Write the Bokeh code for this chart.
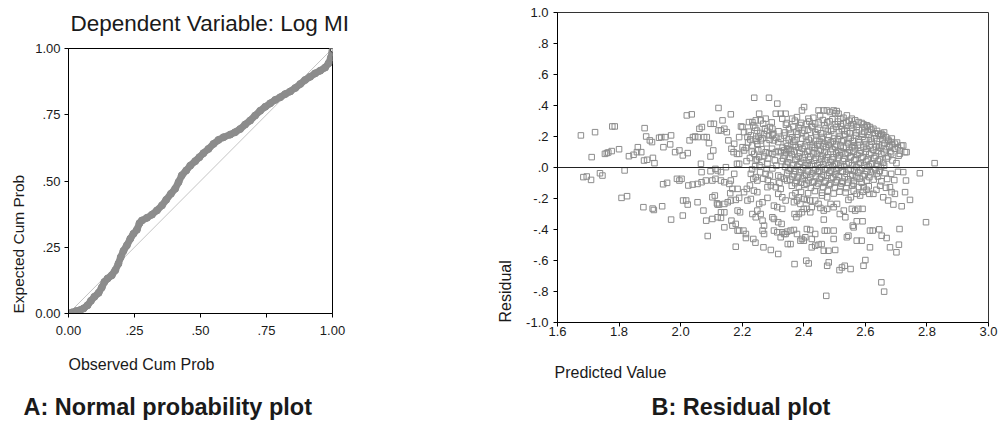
from bokeh.plotting import figure
from bokeh.models import Range1d, FixedTicker, Span, Title
from bokeh.layouts import row, column
from bokeh.embed import file_html
from bokeh.resources import INLINE

FONT = "Liberation Sans"
TXT = "#1a1a1a"
GRAY = "#8c8c8c"

# ---------------- Panel A: normal P-P plot ----------------
pp_ticks = [0.0, 0.25, 0.5, 0.75, 1.0]
pp_tick_labels = ["0.00", ".25", ".50", ".75", "1.00"]

observed_cum_prob = [0.0, 0.013, 0.029, 0.044, 0.057, 0.072, 0.085, 0.098, 0.114, 0.126,
                     0.136, 0.148, 0.164, 0.177, 0.189, 0.198, 0.208, 0.221, 0.234, 0.246,
                     0.259, 0.269, 0.278, 0.297, 0.316, 0.335, 0.354, 0.370, 0.388, 0.404,
                     0.417, 0.429, 0.446, 0.461, 0.480, 0.496, 0.511, 0.530, 0.549, 0.568,
                     0.587, 0.612, 0.631, 0.650, 0.669, 0.688, 0.707, 0.726, 0.745, 0.764,
                     0.783, 0.802, 0.821, 0.840, 0.859, 0.878, 0.896, 0.915, 0.934, 0.953,
                     0.972, 0.985, 0.994, 0.999, 1.0]
expected_cum_prob = [0.0, 0.004, 0.009, 0.013, 0.019, 0.031, 0.048, 0.063, 0.078, 0.098,
                     0.119, 0.132, 0.144, 0.163, 0.188, 0.213, 0.236, 0.257, 0.282, 0.301,
                     0.316, 0.341, 0.351, 0.361, 0.373, 0.389, 0.408, 0.429, 0.452, 0.471,
                     0.496, 0.521, 0.540, 0.558, 0.575, 0.590, 0.605, 0.621, 0.640, 0.655,
                     0.665, 0.675, 0.684, 0.696, 0.713, 0.728, 0.747, 0.765, 0.780, 0.793,
                     0.806, 0.816, 0.828, 0.838, 0.851, 0.866, 0.881, 0.893, 0.906, 0.916,
                     0.928, 0.944, 0.966, 0.985, 0.994]

# ---------------- Panel B: residual plot ----------------
pred_ticks = [1.6, 1.8, 2.0, 2.2, 2.4, 2.6, 2.8, 3.0]
pred_tick_labels = ["1.6", "1.8", "2.0", "2.2", "2.4", "2.6", "2.8", "3.0"]
resid_ticks = [-1.0, -0.8, -0.6, -0.4, -0.2, 0.0, 0.2, 0.4, 0.6, 0.8, 1.0]
resid_tick_labels = ["-1.0", "-.8", "-.6", "-.4", "-.2", ".0", ".2", ".4", ".6", ".8", "1.0"]

# (predicted value, residual), by region
left_points = [
    (1.676, .207), (1.722, .228), (1.711, .067), (1.754, .088), (1.760, .093), (1.765, .097),
    (1.778, .265), (1.786, .265), (1.776, .106), (1.800, .118), (1.684, -.062), (1.695, -.058),
    (1.709, -.080), (1.738, -.037), (1.746, -.052), (1.808, -.196), (1.826, -.185), (1.818, -.019),
    (1.832, .073), (1.847, .082), (1.861, .131), (1.858, .099), (1.872, .099), (1.883, .254),
    (1.888, .200), (1.881, .045), (1.891, .050), (1.910, .062), (1.915, .028), (1.900, .175),
    (1.907, .164), (1.930, .192), (1.937, .196), (1.950, .196), (1.969, .207), (1.944, .131),
    (1.966, .149), (1.879, -.256), (1.909, -.265), (1.913, -.274), (1.940, -.250), (1.969, -.336),
    (1.943, -.108), (1.956, -.099), (1.982, .099), (1.996, .110), (2.007, .078), (2.023, .093),
    (1.988, -.073), (1.996, -.084), (2.003, -.073), (2.008, -.213), (2.018, -.213), (2.023, -.239),
    (2.007, -.310), (2.020, .336), (2.036, .343), (2.029, .175), (2.040, .196), (2.047, .200),
    (2.056, .196), (2.061, .250), (2.069, .261), (2.025, -.116), (2.039, -.110), (2.055, -.106),
    (2.068, -.095), (2.082, -.084), (2.055, -.224), (2.074, -.278), (2.083, -.343), (2.088, -.442),
    (2.066, .024), (2.068, -.030), (2.085, .196), (2.076, .196), (2.092, .157), (2.097, .071),
    (2.106, .110), (2.097, .282), (2.108, .282), (2.123, .384), (2.136, .304), (2.123, .239),
    (2.131, .239), (2.142, .250), (2.163, .343), (2.150, .228), (2.155, .175), (2.113, -.009),
    (2.097, -.024), (2.120, -.019), (2.131, -.030), (2.147, .002), (2.103, -.084), (2.113, -.073),
    (2.131, -.084), (2.142, -.095), (2.158, -.106), (2.163, -.084), (2.103, -.192), (2.111, -.181),
    (2.120, -.239), (2.118, -.231), (2.125, -.239), (2.142, -.235), (2.153, -.224), (2.163, -.213),
    (2.179, -.209), (2.190, -.196), (2.131, -.289), (2.142, -.289), (2.103, -.332), (2.120, -.321),
    (2.131, -.325), (2.142, -.386), (2.165, -.343), (2.168, -.375), (2.179, -.364), (2.179, -.511),
    (2.185, -.407), (2.190, -.407), (2.185, -.278), (2.193, -.289), (2.161, -.166), (2.168, -.138),
    (2.185, -.138), (2.174, -.041), (2.183, .024), (2.190, .024), (2.172, .099), (2.183, .088),
    (2.190, .088), (2.165, .121), (2.174, .153), (2.190, .196), (2.196, .265), (2.201, .261),
    (2.206, .228), (2.201, .131), (2.206, .110),
]

middle_points = [
    (2.204, -.407), (2.212, -.429), (2.212, -.455), (2.217, -.213), (2.228, -.203), (2.206, -.159),
    (2.215, -.138), (2.225, -.116), (2.236, -.461), (2.243, -.485), (2.239, .450), (2.255, .347),
    (2.222, .293), (2.233, .293), (2.244, .304), (2.260, .304), (2.276, .315), (2.217, .196),
    (2.228, .207), (2.244, .185), (2.260, .175), (2.233, .142), (2.249, .153), (2.239, .088),
    (2.244, .045), (2.255, .067), (2.228, -.041), (2.244, -.062), (2.249, -.084), (2.238, -.149),
    (2.249, -.159), (2.255, -.235), (2.266, -.224), (2.249, -.278), (2.260, -.300), (2.233, -.300),
    (2.244, -.321), (2.266, -.343), (2.271, -.375), (2.266, -.407), (2.271, -.429), (2.269, -.515),
    (2.293, -.532), (2.317, -.558), (2.282, -.196), (2.282, -.127), (2.293, -.116), (2.276, -.041),
    (2.290, -.052), (2.282, .024), (2.287, .093), (2.298, .088), (2.287, .207), (2.298, .207),
    (2.290, .261), (2.298, .250), (2.287, .450), (2.314, .412), (2.309, .347), (2.325, .347),
    (2.341, .347), (2.330, .315), (2.303, .175), (2.317, .164), (2.325, .185), (2.309, .099),
    (2.325, .099), (2.336, .110), (2.346, .121), (2.357, .110), (2.317, -.052), (2.325, -.062),
    (2.336, -.073), (2.346, -.084), (2.309, -.127), (2.325, -.138), (2.317, -.170), (2.330, -.192),
    (2.341, -.213), (2.303, -.246), (2.314, -.256), (2.330, -.267), (2.298, -.321), (2.303, -.332),
    (2.317, -.353), (2.328, -.364), (2.303, -.407), (2.314, -.418), (2.330, -.418), (2.336, -.429),
    (2.341, -.429), (2.346, -.414), (2.357, -.407), (2.368, -.403), (2.348, -.494), (2.357, -.494),
    (2.325, -.450), (2.370, -.623),
]

upper_points = [
    (2.362, .315), (2.378, .325), (2.394, .368), (2.401, .390), (2.415, .315), (2.431, .321),
    (2.448, .368), (2.453, .336), (2.464, .368), (2.475, .368), (2.485, .358), (2.497, .368),
    (2.502, .351), (2.507, .364), (2.513, .347), (2.519, .315), (2.529, .321), (2.540, .336),
    (2.556, .315), (2.567, .304), (2.578, .293), (2.594, .278), (2.604, .272), (2.615, .261),
    (2.626, .250), (2.642, .218), (2.652, .218), (2.658, .207), (2.674, .179), (2.685, .164),
    (2.696, .153), (2.706, .131), (2.717, .142), (2.712, .110), (2.734, .099),
]

band_points = [
    (2.371, .302), (2.392, .288), (2.418, .297), (2.437, .283), (2.462, .306), (2.476, .291),
    (2.493, .311), (2.511, .296), (2.528, .284), (2.547, .302), (2.561, .279), (2.588, .287),
    (2.607, .268), (2.236, .271), (2.268, .282), (2.296, .291), (2.342, .276),
    (2.352, .246), (2.383, .256), (2.402, .238), (2.428, .259), (2.446, .243), (2.471, .252),
    (2.489, .236), (2.506, .262), (2.524, .247), (2.541, .233), (2.557, .255), (2.579, .241),
    (2.597, .229), (2.619, .244), (2.638, .236), (2.661, .226), (2.248, .238), (2.274, .252),
    (2.318, .234),
    (2.336, .206), (2.362, .195), (2.381, .213), (2.407, .201), (2.423, .188), (2.441, .214),
    (2.458, .197), (2.482, .209), (2.498, .187), (2.517, .203), (2.533, .214), (2.552, .192),
    (2.569, .206), (2.591, .198), (2.612, .211), (2.629, .189), (2.648, .203), (2.667, .196),
    (2.686, .187), (2.271, .215), (2.253, .198),
    (2.342, .158), (2.366, .167), (2.389, .151), (2.409, .164), (2.432, .146), (2.451, .171),
    (2.467, .155), (2.488, .162), (2.506, .148), (2.523, .169), (2.544, .157), (2.563, .144),
    (2.581, .163), (2.602, .151), (2.621, .166), (2.644, .149), (2.663, .158), (2.688, .145),
    (2.703, .161), (2.219, .162), (2.279, .156),
    (2.331, .128), (2.352, .117), (2.374, .132), (2.396, .121), (2.417, .108), (2.436, .126),
    (2.455, .114), (2.472, .131), (2.493, .119), (2.512, .106), (2.529, .127), (2.548, .113),
    (2.566, .124), (2.585, .109), (2.604, .122), (2.626, .114), (2.645, .128), (2.667, .117),
    (2.681, .104), (2.696, .121), (2.212, .126), (2.263, .118),
    (2.338, .078), (2.361, .086), (2.383, .071), (2.404, .083), (2.421, .069), (2.443, .088),
    (2.462, .074), (2.479, .083), (2.497, .066), (2.516, .079), (2.535, .087), (2.553, .072),
    (2.574, .081), (2.592, .068), (2.613, .084), (2.634, .073), (2.652, .086), (2.674, .071),
    (2.708, .076), (2.271, .074),
    (2.328, .041), (2.349, .034), (2.372, .048), (2.391, .037), (2.413, .026), (2.434, .044),
    (2.451, .031), (2.469, .047), (2.488, .036), (2.506, .024), (2.527, .041), (2.546, .032),
    (2.564, .046), (2.583, .029), (2.603, .039), (2.622, .026), (2.641, .043), (2.658, .031),
    (2.688, .046), (2.263, .036), (2.214, .041),
    (2.339, .004), (2.357, -.008), (2.379, .006), (2.398, -.004), (2.419, .009), (2.438, -.011),
    (2.457, .002), (2.476, -.006), (2.494, .008), (2.513, -.003), (2.531, .006), (2.552, -.009),
    (2.571, .003), (2.589, -.005), (2.611, .007), (2.632, -.012), (2.651, .004), (2.242, .008),
    (2.298, -.006),
    (2.346, -.036), (2.368, -.044), (2.386, -.031), (2.408, -.047), (2.427, -.038), (2.446, -.029),
    (2.464, -.046), (2.483, -.034), (2.502, -.043), (2.521, -.028), (2.539, -.041), (2.558, -.049),
    (2.577, -.033), (2.598, -.044), (2.618, -.031), (2.637, -.039), (2.662, -.036), (2.684, -.041),
    (2.706, -.028), (2.258, -.031),
    (2.356, -.078), (2.377, -.086), (2.396, -.071), (2.415, -.083), (2.433, -.091), (2.452, -.074),
    (2.471, -.088), (2.489, -.069), (2.508, -.082), (2.526, -.091), (2.544, -.076), (2.563, -.087),
    (2.582, -.072), (2.604, -.084), (2.627, -.078), (2.652, -.089), (2.671, -.074), (2.694, -.081),
    (2.268, -.072),
    (2.361, -.118), (2.384, -.126), (2.402, -.112), (2.423, -.131), (2.441, -.119), (2.463, -.127),
    (2.482, -.114), (2.501, -.129), (2.519, -.121), (2.538, -.133), (2.557, -.117), (2.579, -.126),
    (2.611, -.121), (2.648, -.118), (2.667, -.131),
    (2.391, -.158), (2.414, -.166), (2.436, -.152), (2.459, -.163), (2.478, -.149), (2.497, -.168),
    (2.516, -.156), (2.536, -.161), (2.592, -.157),
]

dense_points = [
    (2.345, .287), (2.366, .262), (2.388, .274), (2.409, .281), (2.425, .268), (2.448, .291),
    (2.467, .273), (2.484, .298), (2.501, .279), (2.521, .268), (2.538, .291), (2.553, .271),
    (2.572, .262), (2.598, .259),
    (2.339, .226), (2.357, .219), (2.376, .231), (2.394, .223), (2.414, .244), (2.437, .229),
    (2.456, .221), (2.478, .232), (2.496, .249), (2.514, .227), (2.532, .239), (2.549, .221),
    (2.571, .226), (2.589, .217), (2.608, .231), (2.631, .221), (2.652, .212),
    (2.351, .181), (2.372, .176), (2.395, .186), (2.416, .179), (2.438, .171), (2.462, .184),
    (2.477, .176), (2.494, .169), (2.511, .182), (2.529, .176), (2.546, .184), (2.559, .171),
    (2.578, .182), (2.597, .176), (2.618, .186), (2.637, .171), (2.656, .182), (2.676, .171),
    (2.347, .139), (2.371, .146), (2.383, .129), (2.404, .139), (2.427, .132), (2.444, .149),
    (2.463, .138), (2.481, .146), (2.502, .134), (2.519, .141), (2.538, .134), (2.557, .131),
    (2.576, .142), (2.594, .132), (2.614, .141), (2.635, .133), (2.655, .141), (2.678, .134),
    (2.342, .098), (2.368, .103), (2.388, .094), (2.411, .101), (2.431, .091), (2.449, .106),
    (2.468, .097), (2.487, .102), (2.506, .091), (2.522, .099), (2.543, .094), (2.561, .102),
    (2.581, .092), (2.601, .101), (2.619, .094), (2.641, .104), (2.662, .096), (2.684, .091),
    (2.333, .058), (2.354, .061), (2.377, .055), (2.396, .064), (2.417, .051), (2.439, .063),
    (2.457, .054), (2.474, .066), (2.493, .052), (2.511, .061), (2.531, .057), (2.551, .064),
    (2.569, .054), (2.587, .061), (2.608, .052), (2.629, .061), (2.647, .054), (2.669, .058),
    (2.344, .019), (2.365, .016), (2.386, .022), (2.405, .013), (2.426, .019), (2.445, .014),
    (2.463, .021), (2.482, .015), (2.501, .019), (2.519, .012), (2.539, .021), (2.557, .015),
    (2.578, .019), (2.596, .013), (2.617, .021), (2.638, .017), (2.661, .012),
    (2.351, -.019), (2.372, -.023), (2.391, -.016), (2.413, -.024), (2.432, -.017), (2.451, -.021),
    (2.469, -.014), (2.488, -.022), (2.507, -.018), (2.526, -.024), (2.545, -.016), (2.564, -.021),
    (2.583, -.017), (2.604, -.023), (2.626, -.018), (2.647, -.022),
    (2.362, -.058), (2.381, -.061), (2.402, -.054), (2.421, -.063), (2.439, -.057), (2.458, -.061),
    (2.476, -.053), (2.495, -.062), (2.514, -.057), (2.533, -.063), (2.551, -.055), (2.571, -.061),
    (2.592, -.056), (2.613, -.062), (2.641, -.058),
    (2.372, -.101), (2.391, -.098), (2.409, -.104), (2.428, -.097), (2.447, -.103), (2.467, -.099),
    (2.486, -.104), (2.504, -.097), (2.523, -.103), (2.543, -.099), (2.562, -.104), (2.588, -.098),
    (2.221, .231), (2.242, .256), (2.259, .223), (2.281, .236), (2.301, .219), (2.226, .181),
    (2.247, .171), (2.266, .188), (2.289, .178), (2.311, .191), (2.231, .102), (2.252, .111),
    (2.276, .098), (2.297, .121), (2.318, .106), (2.225, .061), (2.248, .052), (2.284, .058),
    (2.306, .046), (2.232, -.012), (2.256, .014), (2.279, -.009), (2.311, .012), (2.236, -.072),
    (2.283, -.081), (2.301, -.094), (2.321, -.099),
]

lower_points = [
    (2.378, -.429), (2.389, -.472), (2.400, -.472), (2.394, -.461), (2.405, -.450), (2.410, -.397),
    (2.421, -.403), (2.408, -.601), (2.416, -.619), (2.426, -.515), (2.437, -.504), (2.448, -.498),
    (2.458, -.494), (2.426, -.461), (2.437, -.429), (2.465, -.336), (2.468, -.407), (2.476, -.407),
    (2.497, -.407), (2.497, -.461), (2.465, -.537), (2.480, -.537), (2.502, -.532), (2.476, -.634),
    (2.481, -.612), (2.473, -.828), (2.516, -.662), (2.524, -.645), (2.533, -.634), (2.552, -.655),
    (2.540, -.450), (2.545, -.440), (2.572, -.472), (2.588, -.472), (2.615, -.515), (2.594, -.634),
    (2.600, -.597), (2.572, -.347), (2.591, -.347), (2.559, -.375), (2.562, -.386), (2.615, -.407),
    (2.624, -.407), (2.645, -.399), (2.653, -.440), (2.669, -.455), (2.680, -.515), (2.701, -.547),
    (2.709, -.498), (2.711, -.397), (2.652, -.741), (2.661, -.801),
]

right_points = [
    (2.691, -.239), (2.718, -.250), (2.745, -.209), (2.797, -.353), (2.777, -.037), (2.825, .028),
    (2.729, -.159), (2.732, -.084), (2.723, -.030), (2.729, .099), (2.723, .142), (2.712, .088),
    (2.701, .028), (2.680, -.127), (2.685, -.159), (2.696, -.170), (2.674, -.213), (2.658, -.192),
    (2.636, -.144), (2.626, -.170), (2.613, -.170), (2.604, -.144), (2.594, -.127), (2.583, -.181),
    (2.572, -.170), (2.562, -.149), (2.545, -.209), (2.553, -.192), (2.556, -.267), (2.567, -.278),
    (2.577, -.267), (2.591, -.267), (2.530, -.278), (2.535, -.321), (2.517, -.300), (2.508, -.235),
    (2.497, -.256), (2.487, -.235), (2.476, -.267), (2.465, -.278), (2.454, -.261), (2.448, -.235),
    (2.437, -.213), (2.426, -.256), (2.421, -.289), (2.410, -.267), (2.400, -.267), (2.389, -.235),
    (2.378, -.213), (2.368, -.224), (2.370, -.300), (2.376, -.321), (2.384, -.300), (2.394, -.289),
    (2.362, -.181), (2.373, -.166), (2.384, -.192), (2.400, -.203), (2.410, -.209), (2.421, -.213),
    (2.459, -.181), (2.476, -.192),
]

all_points = (left_points + middle_points + upper_points + band_points + dense_points
              + lower_points + right_points)
predicted_value = [p[0] for p in all_points]
residual = [p[1] for p in all_points]


def style_axis(ax, ticks, labels, tick_size, standoff):
    ax.ticker = FixedTicker(ticks=ticks)
    ax.major_label_overrides = dict(zip(ticks, labels))
    ax.axis_line_color = "black"
    ax.axis_line_width = 1
    ax.major_tick_line_color = "black"
    ax.major_tick_out = 4
    ax.major_tick_in = 0
    ax.minor_tick_line_color = None
    ax.major_label_text_font = FONT
    ax.major_label_text_font_size = tick_size
    ax.major_label_text_color = TXT
    ax.major_label_standoff = standoff


def add_title(p, text, side, size, offset, standoff, bold=False):
    p.add_layout(Title(text=text, text_font=FONT, text_font_size=size,
                       text_font_style="bold" if bold else "normal", text_color=TXT,
                       align="left", offset=offset, standoff=standoff), side)


def add_gap(p, side, px):
    # blank panel used only as vertical/horizontal spacing between texts
    p.add_layout(Title(text=" ", text_font_size="1px", standoff=px), side)


# ---- figure A ----  frame x 68..332, y 48..313
pa = figure(width=485, height=423, x_range=Range1d(0, 1), y_range=Range1d(0, 1),
            output_backend="svg", toolbar_location=None,
            min_border_left=68, min_border_right=153, min_border_top=48, min_border_bottom=110)
pa.grid.visible = False
pa.outline_line_color = "black"
pa.background_fill_color = "white"
pa.border_fill_color = "white"
style_axis(pa.xaxis[0], pp_ticks, pp_tick_labels, "13px", 8)
style_axis(pa.yaxis[0], pp_ticks, pp_tick_labels, "13px", 4)

pa.line([0, 1], [0, 1], line_color="#c4c4c4", line_width=1)
pa.line(observed_cum_prob, expected_cum_prob, line_color=GRAY, line_width=7,
        line_join="round", line_cap="round")
pa.scatter(observed_cum_prob, expected_cum_prob, marker="circle", size=7,
           fill_color=GRAY, line_color=GRAY)
pa.scatter([observed_cum_prob[-1]], [expected_cum_prob[-1]], marker="circle", size=4,
           fill_color="white", line_color="#333333")

add_gap(pa, "above", 10)
add_title(pa, "Dependent Variable: Log MI", "above", "22.5px", 2, 0)
add_gap(pa, "below", 13)
add_title(pa, "Observed Cum Prob", "below", "16px", 0, 0)
add_gap(pa, "below", 16)
add_title(pa, "A: Normal probability plot", "below", "23.5px", -45, 0, bold=True)
add_title(pa, "Expected Cum Prob", "left", "15.5px", 0, 12)

# ---- figure B ----  frame x 556..988, y 12..322
pb = figure(width=515, height=423, x_range=Range1d(1.6, 3.0), y_range=Range1d(-1.0, 1.0),
            output_backend="svg", toolbar_location=None,
            min_border_left=71, min_border_right=12, min_border_top=12, min_border_bottom=101)
pb.grid.visible = False
pb.outline_line_color = "#333333"
pb.background_fill_color = "white"
pb.border_fill_color = "white"
style_axis(pb.xaxis[0], pred_ticks, pred_tick_labels, "13px", 0)
style_axis(pb.yaxis[0], resid_ticks, resid_tick_labels, "13px", 5)

pb.add_layout(Span(location=0, dimension="width", line_color="#222222", line_width=1))
pb.scatter(predicted_value, residual, marker="square", size=5.5, fill_color=None,
           line_color=GRAY, line_width=1)

add_gap(pb, "below", 20)
add_title(pb, "Predicted Value", "below", "16px", -3, 0)
add_gap(pb, "below", 8)
add_title(pb, "B: Residual plot", "below", "23.5px", 94, 0, bold=True)
add_title(pb, "Residual", "left", "16px", 0, 19)

layout = row(column(pa), column(pb))
open("out.html", "w").write(file_html(layout, INLINE))
